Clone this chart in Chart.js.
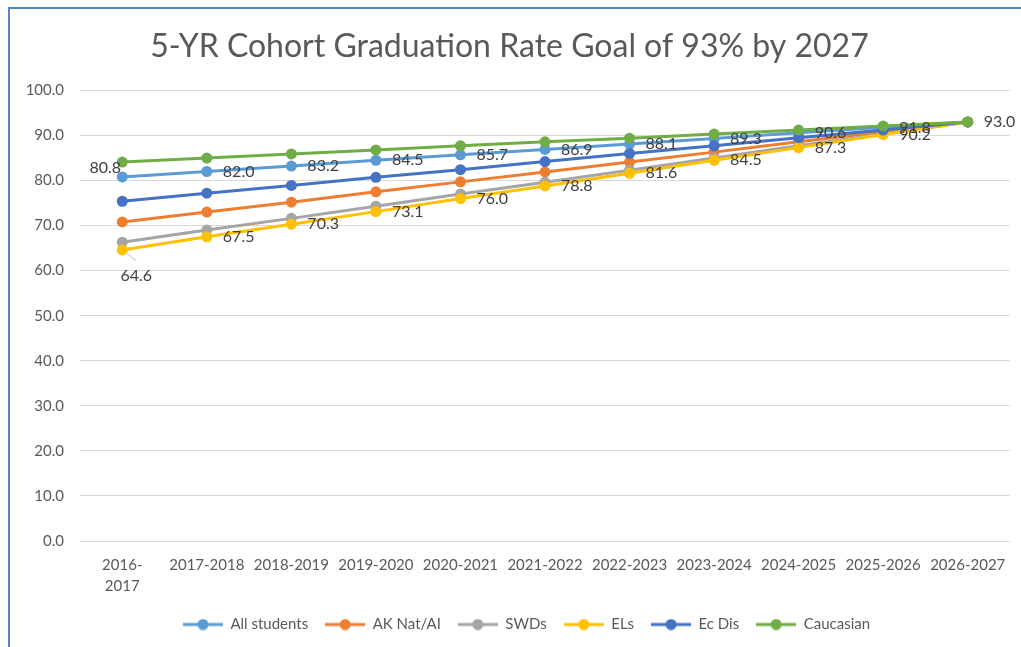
<!DOCTYPE html>
<html>
<head>
<meta charset="utf-8">
<title>5-YR Cohort Graduation Rate Goal</title>
<script src="https://cdn.jsdelivr.net/npm/chart.js@4.4.1/dist/chart.umd.min.js"></script>
<style>
  html, body { margin: 0; padding: 0; background: #fff; }
</style>
</head>
<body>
<canvas id="graficoGraduacion" width="1021" height="647"></canvas>
<script>
// datos
const anios = [['2016-', '2017'], '2017-2018', '2018-2019', '2019-2020', '2020-2021', '2021-2022',
  '2022-2023', '2023-2024', '2024-2025', '2025-2026', '2026-2027'];
const allStudents = [80.8, 82.0, 83.2, 84.5, 85.7, 86.9, 88.1, 89.3, 90.6, 91.8, 93.0];
const akNatAi = [70.8, 73.0, 75.2, 77.5, 79.7, 81.9, 84.1, 86.3, 88.6, 90.8, 93.0];
const swds = [66.3, 69.0, 71.6, 74.3, 77.0, 79.6, 82.3, 85.0, 87.7, 90.3, 93.0];
const els = [64.6, 67.5, 70.3, 73.1, 76.0, 78.8, 81.6, 84.5, 87.3, 90.2, 93.0];
const ecDis = [75.4, 77.2, 78.9, 80.7, 82.4, 84.2, 86.0, 87.7, 89.5, 91.2, 93.0];
const caucasian = [84.1, 85.0, 85.9, 86.8, 87.7, 88.6, 89.4, 90.3, 91.2, 92.1, 93.0];

const series = [
  { label: 'All students', data: allStudents, color: '#5B9BD5' },
  { label: 'AK Nat/AI', data: akNatAi, color: '#ED7D31' },
  { label: 'SWDs', data: swds, color: '#A5A5A5' },
  { label: 'ELs', data: els, color: '#FFC000' },
  { label: 'Ec Dis', data: ecDis, color: '#4472C4' },
  { label: 'Caucasian', data: caucasian, color: '#70AD47' }
];

const fuente = 'Lato, "Open Sans", sans-serif';

// marca de la leyenda: linea con circulo
function marcaLeyenda(color) {
  const c = document.createElement('canvas');
  c.width = 40;
  c.height = 12;
  const g = c.getContext('2d');
  g.strokeStyle = color;
  g.lineWidth = 3;
  g.beginPath();
  g.moveTo(0, 6);
  g.lineTo(40, 6);
  g.stroke();
  g.fillStyle = color;
  g.beginPath();
  g.arc(20, 6, 5.5, 0, Math.PI * 2);
  g.fill();
  return c;
}

// fondo blanco y borde azul del recuadro
const marco = {
  id: 'marco',
  beforeDraw(chart) {
    const ctx = chart.ctx;
    ctx.save();
    ctx.fillStyle = '#fff';
    ctx.fillRect(0, 0, chart.width, chart.height);
    ctx.strokeStyle = '#5585C8';
    ctx.lineWidth = 2;
    ctx.beginPath();
    ctx.moveTo(9, chart.height);
    ctx.lineTo(9, 8);
    ctx.lineTo(chart.width, 8);
    ctx.stroke();
    ctx.restore();
  }
};

// la leyenda de Excel queda un poco a la derecha
const moverLeyenda = {
  id: 'moverLeyenda',
  afterLayout(chart) {
    chart.legend.left += 17;
    chart.legend.right += 17;
  }
};

// etiquetas de valores para All students y ELs
const etiquetas = {
  id: 'etiquetas',
  afterDatasetsDraw(chart) {
    const ctx = chart.ctx;
    ctx.save();
    ctx.font = '16px ' + fuente;
    ctx.fillStyle = '#404040';
    ctx.textBaseline = 'middle';
    [0, 3].forEach(function (di) {
      const meta = chart.getDatasetMeta(di);
      const datos = chart.data.datasets[di].data;
      meta.data.forEach(function (pt, i) {
        if (di === 3 && i === datos.length - 1) return; // el 93.0 ya sale una vez
        const txt = datos[i].toFixed(1);
        let x = pt.x + 16;
        let y = pt.y;
        ctx.textAlign = 'left';
        if (di === 0 && i === 0) {
          ctx.textAlign = 'center';
          x = pt.x - 17;
          y = pt.y - 9;
        }
        if (di === 3 && i === 0) {
          ctx.strokeStyle = '#BFBFBF';
          ctx.lineWidth = 1;
          ctx.beginPath();
          ctx.moveTo(pt.x + 4, pt.y + 3);
          ctx.lineTo(pt.x + 14, pt.y + 11);
          ctx.stroke();
          ctx.textAlign = 'center';
          x = pt.x + 14;
          y = pt.y + 26;
        }
        ctx.fillText(txt, x, y);
      });
    });
    ctx.restore();
  }
};

const ctx = document.getElementById('graficoGraduacion');
new Chart(ctx, {
  type: 'line',
  data: {
    labels: anios,
    datasets: series.map(function (s, i) {
      return {
        label: s.label,
        data: s.data,
        borderColor: s.color,
        backgroundColor: s.color,
        pointBackgroundColor: s.color,
        pointBorderColor: s.color,
        pointBorderWidth: 0,
        pointRadius: 5.5,
        borderWidth: 3,
        tension: 0,
        order: series.length - 1 - i
      };
    })
  },
  options: {
    responsive: false,
    animation: false,
    layout: { padding: { left: 9, right: 11, top: 0, bottom: 5 } },
    plugins: {
      title: {
        display: true,
        text: '5-YR Cohort Graduation Rate Goal of 93% by 2027',
        color: '#595959',
        font: { family: fuente, size: 32, weight: 'normal' },
        padding: { top: 27, bottom: 25 }
      },
      legend: {
        position: 'bottom',
        labels: {
          usePointStyle: true,
          pointStyleWidth: 40,
          padding: 17,
          color: '#595959',
          font: { family: fuente, size: 15 },
          generateLabels: function (chart) {
            return chart.data.datasets.map(function (ds, i) {
              return {
                text: ds.label,
                pointStyle: marcaLeyenda(ds.borderColor),
                fillStyle: ds.borderColor,
                strokeStyle: ds.borderColor,
                lineWidth: 0,
                fontColor: '#595959',
                hidden: !chart.isDatasetVisible(i),
                datasetIndex: i
              };
            });
          }
        }
      },
      tooltip: { enabled: false }
    },
    scales: {
      x: {
        offset: true,
        grid: { display: false, drawTicks: false },
        border: { display: false },
        ticks: {
          color: '#595959',
          font: { family: fuente, size: 15, lineHeight: 1.4 },
          maxRotation: 0,
          autoSkip: false,
          padding: 14
        },
        afterFit: function (scale) { scale.height = 59; }
      },
      y: {
        min: 0,
        max: 100,
        border: { display: false },
        grid: { color: '#D9D9D9', drawTicks: false },
        ticks: {
          stepSize: 10,
          color: '#595959',
          font: { family: fuente, size: 15 },
          padding: 16,
          callback: function (v) { return v.toFixed(1); }
        },
        afterFit: function (scale) { scale.width = 71; }
      }
    }
  },
  plugins: [marco, moverLeyenda, etiquetas]
});
</script>
</body>
</html>
